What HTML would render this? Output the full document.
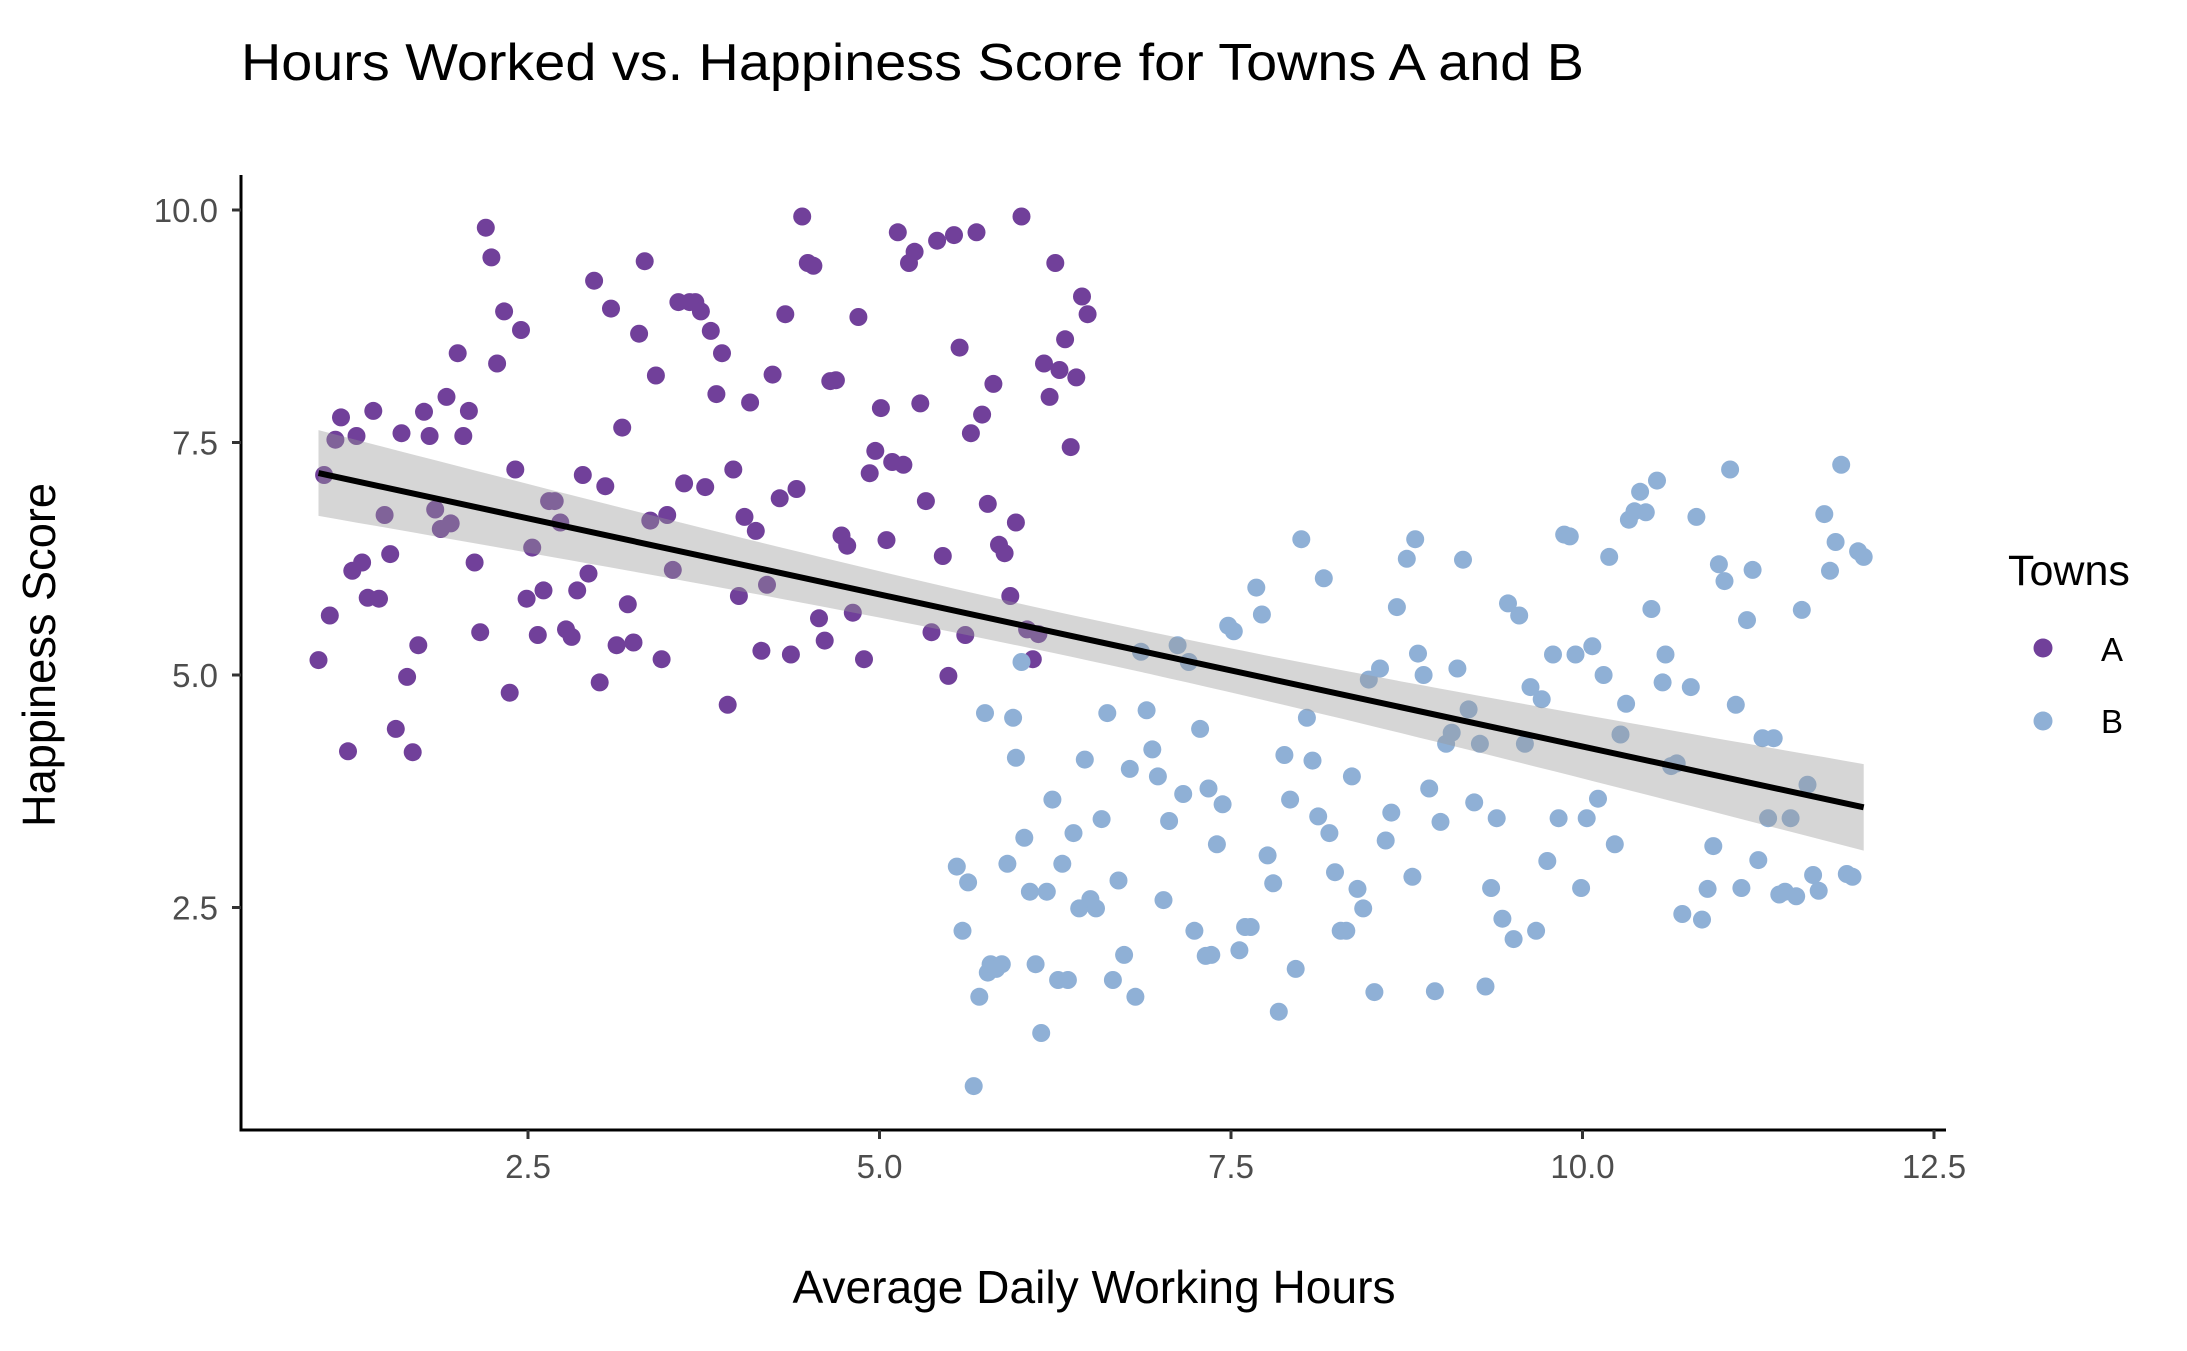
<!DOCTYPE html>
<html><head><meta charset="utf-8"><title>Hours Worked vs. Happiness Score</title>
<style>
html,body{margin:0;padding:0;background:#fff;}
svg{display:block;font-family:"Liberation Sans",Arial,sans-serif;}
</style></head>
<body>
<svg id="chart" width="2187" height="1351" viewBox="0 0 2187 1351" xmlns="http://www.w3.org/2000/svg">
<rect width="2187" height="1351" fill="#fff"/>
<text x="241" y="80" font-size="52" textLength="1343" lengthAdjust="spacingAndGlyphs" fill="#000">Hours Worked vs. Happiness Score for Towns A and B</text>
<g id="points"></g>
<g id="fit"></g>
<g id="axes"></g>
<text x="1094" y="1303" font-size="46" textLength="603" lengthAdjust="spacingAndGlyphs" text-anchor="middle" fill="#000">Average Daily Working Hours</text>
<text transform="translate(55,655) rotate(-90)" font-size="46" textLength="344" lengthAdjust="spacingAndGlyphs" text-anchor="middle" fill="#000">Happiness Score</text>
<g>
<text x="2008" y="585" font-size="43" fill="#000">Towns</text>
<g><circle cx="2043" cy="648" r="9.5" fill="#71409a"/><text x="2101" y="661" font-size="33" fill="#000">A</text></g>
<g><circle cx="2043" cy="721" r="9.5" fill="#8fb0d6"/><text x="2101" y="733" font-size="33" fill="#000">B</text></g>
</g>
</svg>
<script>
const aX=[1.01,1.05,1.09,1.13,1.17,1.22,1.25,1.28,1.32,1.36,1.40,1.44,1.48,1.52,1.56,1.60,1.64,1.68,1.72,1.76,1.80,1.84,1.88,1.92,1.95,2.00,2.04,2.08,2.12,2.16,2.20,2.24,2.28,2.33,2.37,2.41,2.45,2.49,2.53,2.57,2.61,2.65,2.69,2.73,2.77,2.81,2.85,2.89,2.93,2.97,3.01,3.05,3.09,3.13,3.17,3.21,3.25,3.29,3.33,3.37,3.41,3.45,3.49,3.53,3.57,3.61,3.65,3.69,3.73,3.76,3.80,3.84,3.88,3.92,3.96,4.00,4.04,4.08,4.12,4.16,4.20,4.24,4.29,4.33,4.37,4.41,4.45,4.49,4.53,4.57,4.61,4.65,4.69,4.73,4.77,4.81,4.85,4.89,4.93,4.97,5.01,5.05,5.09,5.13,5.17,5.21,5.25,5.29,5.33,5.37,5.41,5.45,5.49,5.53,5.57,5.61,5.65,5.69,5.73,5.77,5.81,5.85,5.89,5.93,5.97,6.01,6.05,6.09,6.13,6.17,6.21,6.25,6.28,6.32,6.36,6.40,6.44,6.48];
const aY=[5.16,7.15,5.64,7.53,7.77,4.18,6.12,7.57,6.21,5.83,7.84,5.82,6.72,6.30,4.42,7.60,4.98,4.17,5.32,7.83,7.57,6.78,6.57,7.99,6.63,8.46,7.57,7.84,6.21,5.46,9.81,9.49,8.35,8.91,4.81,7.21,8.71,5.82,6.37,5.43,5.91,6.87,6.87,6.64,5.49,5.41,5.91,7.15,6.09,9.24,4.92,7.03,8.94,5.32,7.66,5.76,5.35,8.67,9.45,6.66,8.22,5.17,6.72,6.13,9.01,7.06,9.01,9.01,8.91,7.02,8.70,8.02,8.46,4.68,7.21,5.85,6.70,7.93,6.55,5.26,5.97,8.23,6.90,8.88,5.22,7.00,9.93,9.43,9.40,5.61,5.37,8.16,8.17,6.50,6.39,5.67,8.85,5.17,7.17,7.41,7.87,6.45,7.29,9.76,7.26,9.43,9.55,7.92,6.87,5.46,9.67,6.28,4.99,9.73,8.52,5.43,7.60,9.76,7.80,6.84,8.13,6.40,6.31,5.85,6.64,9.93,5.49,5.17,5.44,8.35,7.99,9.43,8.28,8.61,7.45,8.20,9.07,8.88];
const bX=[5.55,5.59,5.63,5.67,5.71,5.75,5.77,5.79,5.83,5.87,5.91,5.95,5.97,6.01,6.03,6.07,6.11,6.15,6.19,6.23,6.27,6.30,6.34,6.38,6.42,6.46,6.50,6.54,6.58,6.62,6.66,6.70,6.74,6.78,6.82,6.86,6.90,6.94,6.98,7.02,7.06,7.12,7.16,7.20,7.24,7.28,7.32,7.34,7.36,7.40,7.44,7.48,7.52,7.56,7.60,7.64,7.68,7.72,7.76,7.80,7.84,7.88,7.92,7.96,8.00,8.04,8.08,8.12,8.16,8.20,8.24,8.28,8.32,8.36,8.40,8.44,8.48,8.52,8.56,8.60,8.64,8.68,8.75,8.79,8.81,8.83,8.87,8.91,8.95,8.99,9.03,9.07,9.11,9.15,9.19,9.23,9.27,9.31,9.35,9.39,9.43,9.47,9.51,9.55,9.59,9.63,9.67,9.71,9.75,9.79,9.83,9.87,9.91,9.95,9.99,10.03,10.07,10.11,10.15,10.19,10.23,10.27,10.31,10.33,10.37,10.41,10.45,10.49,10.53,10.57,10.59,10.63,10.67,10.71,10.77,10.81,10.85,10.89,10.93,10.97,11.01,11.05,11.09,11.13,11.17,11.21,11.25,11.28,11.32,11.36,11.40,11.44,11.48,11.52,11.56,11.60,11.64,11.68,11.72,11.76,11.80,11.84,11.88,11.92,11.96,12.00];
const bY=[2.94,2.25,2.77,0.58,1.54,4.59,1.80,1.89,1.84,1.89,2.97,4.54,4.11,5.14,3.25,2.67,1.89,1.15,2.67,3.66,1.72,2.97,1.72,3.30,2.49,4.09,2.59,2.49,3.45,4.59,1.72,2.79,1.99,3.99,1.54,5.25,4.62,4.20,3.91,2.58,3.43,5.32,3.72,5.14,2.25,4.42,1.98,3.78,1.99,3.18,3.61,5.53,5.47,2.04,2.29,2.29,5.94,5.65,3.06,2.76,1.38,4.14,3.66,1.84,6.46,4.54,4.08,3.48,6.04,3.30,2.88,2.25,2.25,3.91,2.70,2.49,4.95,1.59,5.07,3.22,3.52,5.73,6.25,2.83,6.46,5.23,5.00,3.78,1.60,3.42,4.26,4.38,5.07,6.24,4.63,3.63,4.26,1.65,2.71,3.46,2.38,5.77,2.16,5.64,4.26,4.87,2.25,4.74,3.00,5.22,3.46,6.51,6.49,5.22,2.71,3.46,5.31,3.67,5.00,6.27,3.18,4.36,4.69,6.67,6.76,6.97,6.75,5.71,7.09,4.92,5.22,4.02,4.05,2.43,4.87,6.70,2.37,2.70,3.16,6.19,6.01,7.21,4.68,2.71,5.59,6.13,3.01,4.32,3.46,4.32,2.64,2.67,3.46,2.62,5.70,3.82,2.85,2.68,6.73,6.12,6.43,7.26,2.86,2.83,6.33,6.27];
const xTicks=[2.5,5.0,7.5,10.0,12.5];
const yTicks=[2.5,5.0,7.5,10.0];

const NS='http://www.w3.org/2000/svg';
function sx(v){return 528+(v-2.5)*140.6;}
function sy(v){return 210+(10-v)*93;}
function mk(tag,attrs,parent){const e=document.createElementNS(NS,tag);for(const k in attrs)e.setAttribute(k,attrs[k]);parent.appendChild(e);return e;}

const gp=document.getElementById('points');
function drawSeries(xs,ys,col,nm){
  for(let i=0;i<xs.length;i++){
    const c=mk('circle',{cx:sx(xs[i]).toFixed(1),cy:sy(ys[i]).toFixed(1),r:9,fill:col},gp);
    
    
  }
}
drawSeries(aX,aY,'#71409a','point-town-a');
drawSeries(bX,bY,'#8fb0d6','point-town-b');

const X=aX.concat(bX),Y=aY.concat(bY),n=X.length;
let mx=0,my=0;for(let i=0;i<n;i++){mx+=X[i];my+=Y[i];}mx/=n;my/=n;
let sxx=0,sxy=0;for(let i=0;i<n;i++){sxx+=(X[i]-mx)**2;sxy+=(X[i]-mx)*(Y[i]-my);}
const slope=sxy/sxx,icpt=my-slope*mx;
let sse=0;for(let i=0;i<n;i++){sse+=(Y[i]-icpt-slope*X[i])**2;}
const s=Math.sqrt(sse/(n-2)),t=1.968;
const x0=Math.min(...X),x1=Math.max(...X);
const gf=document.getElementById('fit');
let up=[],lo=[];
for(let k=0;k<=80;k++){
  const xv=x0+(x1-x0)*k/80,yv=icpt+slope*xv;
  const hw=t*s*Math.sqrt(1/n+(xv-mx)**2/sxx);
  up.push(sx(xv).toFixed(1)+','+sy(yv+hw).toFixed(1));
  lo.unshift(sx(xv).toFixed(1)+','+sy(yv-hw).toFixed(1));
}
const rib=mk('polygon',{points:up.concat(lo).join(' '),fill:'#999999','fill-opacity':0.4},gf);


const ln=mk('line',{x1:sx(x0),y1:sy(icpt+slope*x0),x2:sx(x1),y2:sy(icpt+slope*x1),stroke:'#000','stroke-width':6},gf);



const ga=document.getElementById('axes');
const ya=mk('line',{x1:241,y1:175,x2:241,y2:1131.5,stroke:'#000','stroke-width':3},ga);


const xa=mk('line',{x1:239.5,y1:1130,x2:1946,y2:1130,stroke:'#000','stroke-width':3},ga);


xTicks.forEach(v=>{
  const tk=mk('line',{x1:sx(v),y1:1130,x2:sx(v),y2:1139,stroke:'#333','stroke-width':3},ga);
  
  
  const tx=mk('text',{x:sx(v),y:1178,'font-size':33,'text-anchor':'middle',fill:'#4d4d4d'},ga);
  tx.textContent=v.toFixed(1);
  
  
});
yTicks.forEach(v=>{
  const tk=mk('line',{x1:232,y1:sy(v),x2:241,y2:sy(v),stroke:'#333','stroke-width':3},ga);
  
  
  const tx=mk('text',{x:218,y:sy(v)+12,'font-size':33,'text-anchor':'end',fill:'#4d4d4d'},ga);
  tx.textContent=v.toFixed(1);
  
  
});
</script>
</body></html>
